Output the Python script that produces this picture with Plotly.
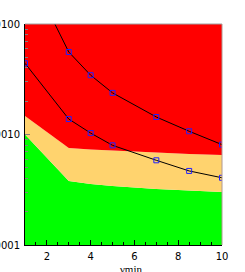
import plotly.graph_objects as go

# Data
x_pts = [1, 3, 4, 5, 7, 8.5, 10]
green_top = [1.0e-3, 3.79e-4, 3.56e-4, 3.42e-4, 3.21e-4, 3.11e-4, 3.02e-4]
yellow_top = [1.47e-3, 7.55e-4, 7.32e-4, 7.16e-4, 6.87e-4, 6.66e-4, 6.52e-4]
upper_curve = [3.5e-2, 5.58e-3, 3.44e-3, 2.38e-3, 1.44e-3, 1.07e-3, 8.1e-4]
lower_curve = [4.41e-3, 1.38e-3, 1.03e-3, 7.98e-4, 5.84e-4, 4.68e-4, 4.06e-4]
y_floor = [1e-5] * len(x_pts)
y_ceiling = [1.0] * len(x_pts)

y_major = [1e-4, 1e-3, 1e-2]
y_major_text = ["0.0001", "0.0010", "0.0100"]
y_minor = [k * 10.0 ** e for e in (-4, -3) for k in range(2, 10)]
x_major = [2, 4, 6, 8, 10]
x_minor = [1 + 0.5 * i for i in range(19)]
x_title = "γmin"

fig = go.Figure()
fig.add_trace(go.Scatter(x=x_pts, y=y_floor, mode="lines", line=dict(width=0), showlegend=False, hoverinfo="skip"))
fig.add_trace(go.Scatter(x=x_pts, y=green_top, mode="lines", line=dict(width=0), fill="tonexty",
                         fillcolor="#00FF00", showlegend=False))
fig.add_trace(go.Scatter(x=x_pts, y=yellow_top, mode="lines", line=dict(width=0), fill="tonexty",
                         fillcolor="#FFD36E", showlegend=False))
fig.add_trace(go.Scatter(x=x_pts, y=y_ceiling, mode="lines", line=dict(width=0), fill="tonexty",
                         fillcolor="#FF0000", showlegend=False))
for curve in (upper_curve, lower_curve):
    fig.add_trace(go.Scatter(x=x_pts, y=curve, mode="lines+markers",
                             line=dict(color="black", width=1),
                             marker=dict(symbol="square-open", size=5, color="#2020FF",
                                         line=dict(width=1, color="#2020FF")),
                             showlegend=False, cliponaxis=True))

fig.add_shape(type="line", xref="paper", yref="paper", x0=0, x1=1, y0=1, y1=1,
              line=dict(color="#A0A0A0", width=1))
fig.add_shape(type="line", xref="paper", yref="paper", x0=1, x1=1, y0=0, y1=1,
              line=dict(color="#B09890", width=1))

fig.add_annotation(text=x_title, xref="paper", yref="paper", x=0.535, y=0, yshift=-16,
                   xanchor="center", yanchor="top", showarrow=False,
                   font=dict(family="Liberation Serif", size=11, color="black"))

fig.update_layout(
    width=245, height=272, autosize=False,
    margin=dict(l=25, r=23, t=24, b=27, pad=0),
    paper_bgcolor="white", plot_bgcolor="white",
    font=dict(family="DejaVu Sans", size=10, color="black"),
    xaxis=dict(range=[1, 10], showgrid=False, zeroline=False,
               showline=True, linecolor="black", linewidth=1,
               tickmode="array", tickvals=x_major, ticktext=[str(v) for v in x_major],
               ticks="inside", ticklen=5, tickcolor="black",
               minor=dict(tickvals=x_minor, ticks="inside", ticklen=3, tickcolor="black"),
               ticklabelstandoff=2, automargin=False),
    yaxis=dict(type="log", range=[-4, -2], showgrid=False, zeroline=False,
               showline=True, linecolor="black", linewidth=1,
               tickmode="array", tickvals=y_major, ticktext=y_major_text,
               ticks="inside", ticklen=5, tickcolor="#808080",
               minor=dict(tickvals=y_minor, ticks="inside", ticklen=3, tickcolor="#808080"),
               ticklabelstandoff=2, automargin=False),
)
fig.write_html("out.html", config={"displayModeBar": False},
               post_script="document.body.style.margin='0';")
